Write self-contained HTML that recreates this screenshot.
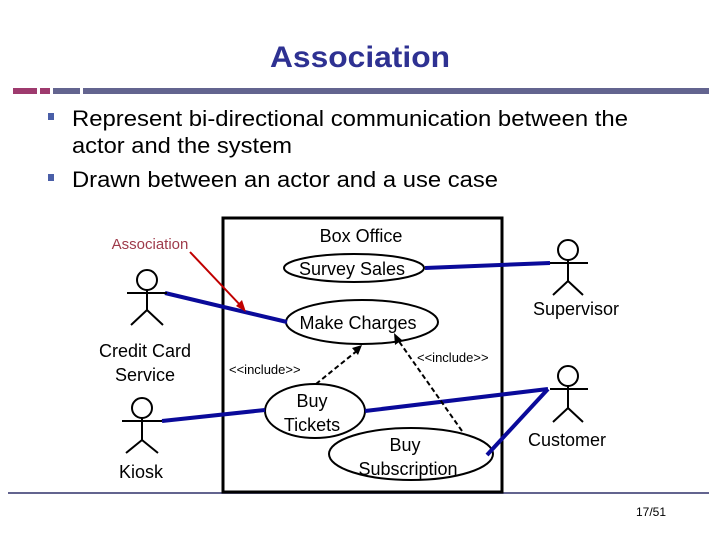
<!DOCTYPE html>
<html><head><meta charset="utf-8"><style>
html,body{margin:0;padding:0;background:#fff;}
body{width:720px;height:540px;position:relative;overflow:hidden;font-family:"Liberation Sans",sans-serif;}
</style></head><body>
<svg width="720" height="540" xmlns="http://www.w3.org/2000/svg" style="position:absolute;left:0;top:0" font-family="Liberation Sans, sans-serif">
<text x="270" y="67" font-size="30" font-weight="bold" fill="#2e3192" textLength="180" lengthAdjust="spacingAndGlyphs">Association</text>
<rect x="13" y="88" width="24" height="6" fill="#9e3a6e"/>
<rect x="40" y="88" width="10" height="6" fill="#9e3a6e"/>
<rect x="53" y="88" width="27" height="6" fill="#63648f"/>
<rect x="83" y="88" width="626" height="6" fill="#63648f"/>
<g font-size="22" fill="#000">
<rect x="48" y="113" width="6" height="7" fill="#4a5fa8"/>
<text x="72" y="126" textLength="556" lengthAdjust="spacingAndGlyphs">Represent bi-directional communication between the</text>
<text x="72" y="153" textLength="220" lengthAdjust="spacingAndGlyphs">actor and the system</text>
<rect x="48" y="174" width="6" height="7" fill="#4a5fa8"/>
<text x="72" y="187" textLength="426" lengthAdjust="spacingAndGlyphs">Drawn between an actor and a use case</text>
</g>
<line x1="8" y1="493" x2="709" y2="493" stroke="#63648f" stroke-width="2"/>
<rect x="223" y="218" width="279" height="274" fill="none" stroke="#000" stroke-width="3"/>
<text x="361" y="242" text-anchor="middle" font-size="18">Box Office</text>
<g fill="#fff" stroke="#000" stroke-width="2">
<ellipse cx="354" cy="268" rx="70" ry="14"/>
<ellipse cx="362" cy="322" rx="76" ry="22"/>
<ellipse cx="315" cy="411" rx="50" ry="27"/>
<ellipse cx="411" cy="454" rx="82" ry="26"/>
</g>
<g font-size="18" text-anchor="middle">
<text x="352" y="275">Survey Sales</text>
<text x="358" y="329">Make Charges</text>
<text x="312" y="407">Buy</text>
<text x="312" y="431">Tickets</text>
<text x="405" y="451">Buy</text>
<text x="408" y="475">Subscription</text>
</g>
<g stroke="#0a0a9a" stroke-width="4" fill="none">
<line x1="165" y1="293" x2="287" y2="322"/>
<line x1="162" y1="421" x2="265" y2="410"/>
<line x1="425" y1="268" x2="550" y2="263"/>
<line x1="365" y1="411" x2="548" y2="389"/>
<line x1="487" y1="455" x2="548" y2="389"/>
</g>
<line x1="190" y1="252" x2="242" y2="307" stroke="#c00000" stroke-width="2"/>
<polygon points="246,312 236,306 242,300" fill="#c00000"/>
<g stroke="#000" stroke-width="2" stroke-dasharray="5,3">
<line x1="316" y1="384" x2="358" y2="350"/>
<line x1="462" y1="431" x2="398" y2="340"/>
</g>
<polygon points="362,345 352,348 358,355" fill="#000"/>
<polygon points="394,333 395,345 402,340" fill="#000"/>
<g font-size="13" fill="#000">
<text x="229" y="374">&lt;&lt;include&gt;&gt;</text>
<text x="417" y="362">&lt;&lt;include&gt;&gt;</text>
</g>
<text x="150" y="249" text-anchor="middle" font-size="15" fill="#9e3a4a">Association</text>
<g stroke="#000" stroke-width="2" fill="none">
<circle cx="147" cy="280" r="10"/><line x1="127" y1="293" x2="167" y2="293"/><line x1="147" y1="290" x2="147" y2="310"/><polyline points="131,325 147,310 163,325"/>
<circle cx="142" cy="408" r="10"/><line x1="122" y1="421" x2="162" y2="421"/><line x1="142" y1="418" x2="142" y2="440"/><polyline points="126,453 142,440 158,453"/>
<circle cx="568" cy="250" r="10"/><line x1="550" y1="263" x2="588" y2="263"/><line x1="568" y1="260" x2="568" y2="281"/><polyline points="553,295 568,281 583,295"/>
<circle cx="568" cy="376" r="10"/><line x1="550" y1="389" x2="588" y2="389"/><line x1="568" y1="386" x2="568" y2="408"/><polyline points="553,422 568,408 583,422"/>
</g>
<g font-size="18" text-anchor="middle">
<text x="145" y="357">Credit Card</text>
<text x="145" y="381">Service</text>
<text x="141" y="478">Kiosk</text>
<text x="576" y="315">Supervisor</text>
<text x="567" y="446">Customer</text>
</g>
<text x="651" y="516" text-anchor="middle" font-size="12">17/51</text>
</svg>
</body></html>
